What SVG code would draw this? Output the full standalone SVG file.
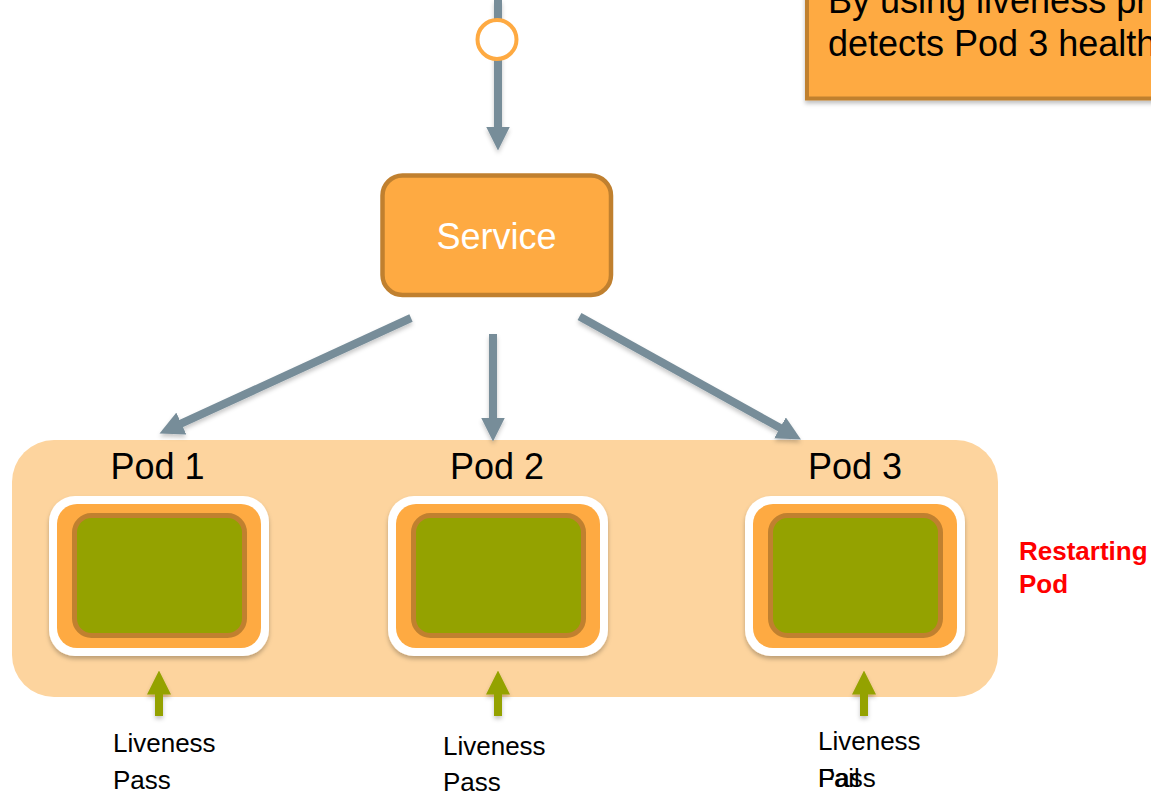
<svg xmlns="http://www.w3.org/2000/svg" width="1151" height="794" viewBox="0 0 1151 794">
  <style>
    .txt { font-family: "Liberation Sans", Arial, sans-serif; fill: #000; }
    .big { font-size: 36px; }
    .small { font-size: 26px; }
    .orange { fill: #FEAA42; stroke: #C0802F; }
    .pod-frame { fill: #FFFFFF; filter: url(#soft); }
    .pod-ring { fill: #FEAA42; }
    .pod-core { fill: #94A200; stroke: #C0802F; stroke-width: 5; }
    .flow { stroke: #778D99; stroke-width: 8; fill: none; marker-end: url(#headGray); filter: url(#lineShadow); }
    .probe { stroke: #94A200; stroke-width: 8; fill: none; marker-end: url(#headGreen); filter: url(#lineShadow); }
    .alert { font-family: "Liberation Sans", Arial, sans-serif; font-size: 26px; font-weight: bold; fill: #FF0000; }
  </style>
  <defs>
    <filter id="soft" x="-20%" y="-20%" width="140%" height="150%">
      <feDropShadow dx="0" dy="3" stdDeviation="2" flood-color="#000" flood-opacity="0.25"/>
    </filter>
    <!-- user-space region so straight vertical lines keep their shadow -->
    <filter id="lineShadow" filterUnits="userSpaceOnUse" x="0" y="-20" width="1151" height="834">
      <feDropShadow dx="0" dy="3" stdDeviation="2" flood-color="#000" flood-opacity="0.22"/>
    </filter>
    <marker id="headGray" markerUnits="userSpaceOnUse" markerWidth="24" markerHeight="24" refX="4" refY="12" orient="auto" viewBox="0 0 24 24">
      <path d="M0,0 L24,12 L0,24 Z" fill="#778D99"/>
    </marker>
    <marker id="headGreen" markerUnits="userSpaceOnUse" markerWidth="24" markerHeight="24" refX="4" refY="12" orient="auto" viewBox="0 0 24 24">
      <path d="M0,0 L24,12 L0,24 Z" fill="#94A200"/>
    </marker>
  </defs>

  <!-- callout box in the top right corner -->
  <g id="callout">
    <rect x="807" y="-10" width="400" height="108.5" class="orange" stroke-width="4" filter="url(#soft)"/>
    <text x="828" y="13" class="txt big">By using liveness pr</text>
    <text x="828" y="56" class="txt big">detects Pod 3 health</text>
  </g>

  <!-- service node -->
  <g id="service">
    <rect x="382.5" y="175.5" width="228.5" height="119.5" rx="20" class="orange" stroke-width="4.5"/>
    <text x="496.5" y="248.5" text-anchor="middle" class="txt" font-size="36" style="fill:#FFFFFF">Service</text>
  </g>

  <!-- deployment area holding the three pods -->
  <g id="pod-group">
    <rect x="12" y="440" width="986" height="257" rx="42" fill="#FDD49E"/>
  </g>

  <g id="pod1">
    <text x="157.5" y="479" text-anchor="middle" class="txt big">Pod 1</text>
    <rect x="49" y="496" width="220" height="160" rx="26" class="pod-frame"/>
    <rect x="57" y="504" width="204" height="144" rx="20" class="pod-ring"/>
    <rect x="74.5" y="515.5" width="170" height="120" rx="17" class="pod-core"/>
  </g>

  <g id="pod2">
    <text x="497" y="479" text-anchor="middle" class="txt big">Pod 2</text>
    <rect x="388" y="496" width="220" height="160" rx="26" class="pod-frame"/>
    <rect x="396" y="504" width="204" height="144" rx="20" class="pod-ring"/>
    <rect x="413.5" y="515.5" width="170" height="120" rx="17" class="pod-core"/>
  </g>

  <g id="pod3">
    <text x="855" y="479" text-anchor="middle" class="txt big">Pod 3</text>
    <rect x="745" y="496" width="220" height="160" rx="26" class="pod-frame"/>
    <rect x="753" y="504" width="204" height="144" rx="20" class="pod-ring"/>
    <rect x="770.5" y="515.5" width="170" height="120" rx="17" class="pod-core"/>
  </g>

  <!-- traffic and probe connectors -->
  <g id="connectors">
    <path class="flow" d="M498,0 L498,130.5"/>
    <path class="flow" d="M411,318 L177.7,425.2"/>
    <path class="flow" d="M493,334 L493,421.5"/>
    <path class="flow" d="M579.5,316.5 L783.5,429.8"/>
    <path class="probe" d="M159,716 L159,690.5"/>
    <path class="probe" d="M498,716 L498,690.5"/>
    <path class="probe" d="M864,716 L864,690.5"/>
  </g>

  <!-- ingress point on the incoming line -->
  <g id="ingress">
    <circle cx="497" cy="39.5" r="19.5" fill="#FFFFFF" stroke="#FEAA42" stroke-width="4"/>
  </g>

  <!-- probe results -->
  <g id="probe-labels">
    <text x="113" y="752" class="txt small">Liveness</text>
    <text x="113" y="789" class="txt small">Pass</text>
    <text x="443" y="754.5" class="txt small">Liveness</text>
    <text x="443" y="791" class="txt small">Pass</text>
    <text x="818" y="750" class="txt small">Liveness</text>
    <text x="818" y="787" class="txt small">Pass</text>
    <text x="818" y="787" class="txt small">Fail</text>
  </g>

  <g id="restart-note">
    <text x="1019" y="560" class="alert">Restarting</text>
    <text x="1019" y="593" class="alert">Pod</text>
  </g>
</svg>
